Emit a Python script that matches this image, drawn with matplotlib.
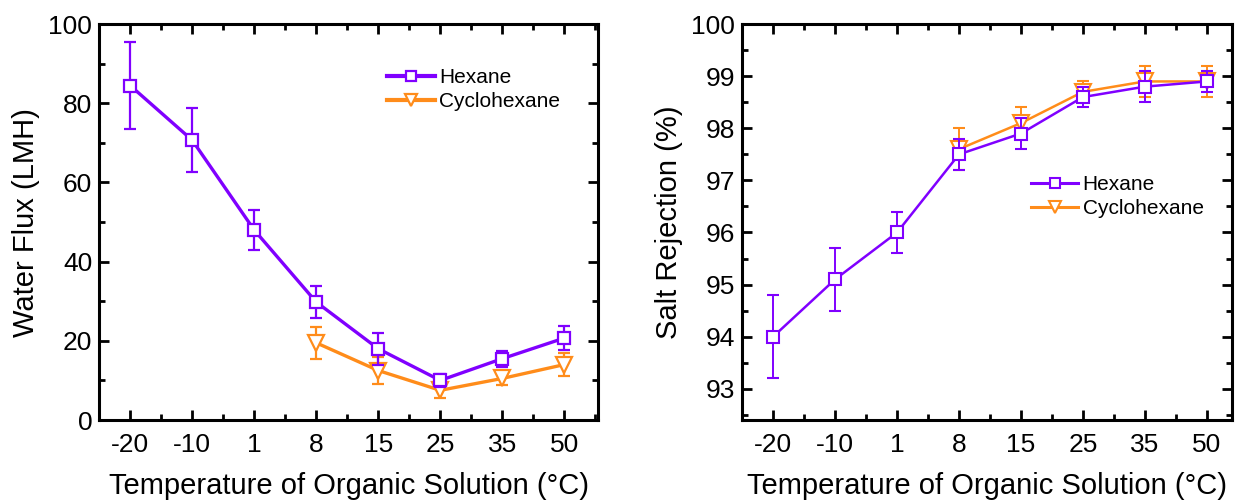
import numpy as np
import matplotlib.pyplot as plt
from matplotlib.ticker import MultipleLocator

plt.rcParams['font.family'] = ['Liberation Sans', 'DejaVu Sans']

temps = ["-20", "-10", "1", "8", "15", "25", "35", "50"]

# water flux (LMH)
hex_flux = [84.5, 70.7, 48.0, 29.8, 18.0, 10.0, 15.5, 20.7]
hex_flux_err = [11.0, 8.0, 5.0, 4.0, 4.0, 1.7, 2.0, 3.0]
cyc_flux = [19.5, 12.5, 7.5, 10.5, 14.0]
cyc_flux_err = [4.0, 3.5, 2.0, 1.7, 3.0]

# salt rejection (%)
hex_rej = [94.0, 95.1, 96.0, 97.5, 97.9, 98.6, 98.8, 98.9]
hex_rej_err = [0.8, 0.6, 0.4, 0.3, 0.3, 0.2, 0.3, 0.2]
cyc_rej = [97.6, 98.1, 98.7, 98.9, 98.9]
cyc_rej_err = [0.4, 0.3, 0.2, 0.3, 0.3]

purple = "#8000ff"
orange = "#ff8c1a"

x = np.arange(len(temps))
xc = x[3:]

fig = plt.figure(figsize=(12.39, 5.03), dpi=100)
ax1 = fig.add_axes([0.080, 0.165, 0.403, 0.787])
ax2 = fig.add_axes([0.599, 0.165, 0.395, 0.787])


def style(ax):
    ax.set_xticks(x)
    ax.set_xticklabels(temps)
    ax.xaxis.set_minor_locator(MultipleLocator(0.5))
    ax.tick_params(which="both", direction="in", top=True, right=True, width=2)
    ax.tick_params(which="major", length=7, labelsize=19, pad=9)
    ax.tick_params(which="major", axis="y", pad=5)
    ax.tick_params(which="minor", length=4)
    for s in ax.spines.values():
        s.set_linewidth(2.2)
    ax.set_xlabel("Temperature of Organic Solution (°C)", fontsize=21, labelpad=11)


def legend(ax, anchor, lw):
    h, l = ax.get_legend_handles_labels()
    h = [e[0] for e in h]
    leg = ax.legend(h, l, loc="upper right", bbox_to_anchor=anchor, frameon=False,
                    fontsize=15, handlelength=2.3, handletextpad=0.2,
                    labelspacing=0.25, borderaxespad=0, markerscale=0.8)
    for line in leg.get_lines():
        line.set_linewidth(lw)


ax1.errorbar(x, hex_flux, yerr=hex_flux_err, color=purple, lw=2.4, marker="s",
             ms=9, mfc="white", mec=purple, mew=1.6, capsize=4, elinewidth=1.6,
             capthick=1.6, label="Hexane", zorder=3)
ax1.errorbar(xc, cyc_flux, yerr=cyc_flux_err, color=orange, lw=2.4, marker="v",
             ms=11, mfc="white", mec=orange, mew=1.6, capsize=4, elinewidth=1.6,
             capthick=1.6, label="Cyclohexane", zorder=2)
ax1.set_xlim(-0.5, 7.55)
ax1.set_ylim(0, 100)
ax1.yaxis.set_major_locator(MultipleLocator(20))
ax1.yaxis.set_minor_locator(MultipleLocator(10))
ax1.set_ylabel("Water Flux (LMH)", fontsize=21, labelpad=6)
style(ax1)
legend(ax1, (0.94, 0.91), 3)

ax2.errorbar(x, hex_rej, yerr=hex_rej_err, color=purple, lw=1.8, marker="s",
             ms=9, mfc="white", mec=purple, mew=1.5, capsize=4, elinewidth=1.4,
             capthick=1.4, label="Hexane", zorder=3)
ax2.errorbar(xc, cyc_rej, yerr=cyc_rej_err, color=orange, lw=1.8, marker="v",
             ms=11, mfc="white", mec=orange, mew=1.5, capsize=4, elinewidth=1.4,
             capthick=1.4, label="Cyclohexane", zorder=2)
ax2.set_xlim(-0.5, 7.4)
ax2.set_ylim(92.4, 100)
ax2.yaxis.set_major_locator(MultipleLocator(1))
ax2.yaxis.set_minor_locator(MultipleLocator(0.5))
ax2.set_ylabel("Salt Rejection (%)", fontsize=21, labelpad=6)
style(ax2)
legend(ax2, (0.96, 0.64), 2.2)

fig.savefig("out.png", dpi=100)
